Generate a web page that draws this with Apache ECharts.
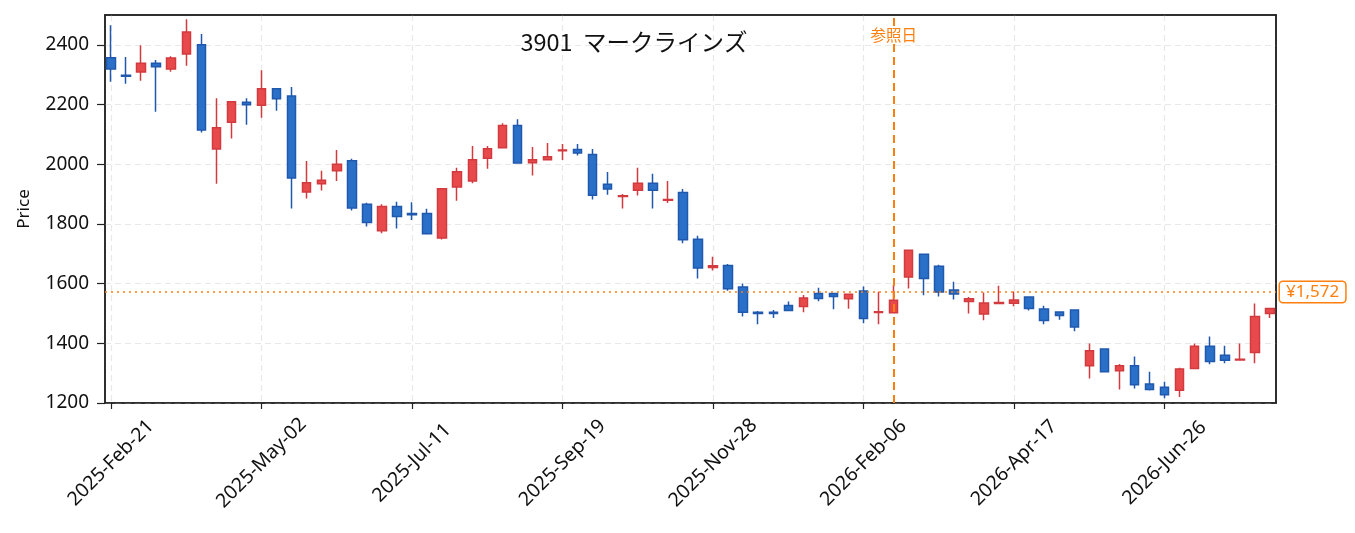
<!DOCTYPE html>
<html>
<head>
    <meta charset="utf-8" />
    <title>3901 マークラインズ</title>
    <script src="https://cdn.jsdelivr.net/npm/echarts@6/dist/echarts.min.js"></script>
    <style>
        html, body { margin: 0; padding: 0; background: #fff; }
        #chart { width: 1355px; height: 533px; }
    </style>
</head>
<body>
    <div id="chart"></div>
    <script type="text/javascript">
        // weekly dates (Fridays)
        var weeks = [
            "2025-Feb-21", "2025-Feb-28", "2025-Mar-07", "2025-Mar-14", "2025-Mar-21", "2025-Mar-28",
            "2025-Apr-04", "2025-Apr-11", "2025-Apr-18", "2025-Apr-25", "2025-May-02", "2025-May-09",
            "2025-May-16", "2025-May-23", "2025-May-30", "2025-Jun-06", "2025-Jun-13", "2025-Jun-20",
            "2025-Jun-27", "2025-Jul-04", "2025-Jul-11", "2025-Jul-18", "2025-Jul-25", "2025-Aug-01",
            "2025-Aug-08", "2025-Aug-15", "2025-Aug-22", "2025-Aug-29", "2025-Sep-05", "2025-Sep-12",
            "2025-Sep-19", "2025-Sep-26", "2025-Oct-03", "2025-Oct-10", "2025-Oct-17", "2025-Oct-24",
            "2025-Oct-31", "2025-Nov-07", "2025-Nov-14", "2025-Nov-21", "2025-Nov-28", "2025-Dec-05",
            "2025-Dec-12", "2025-Dec-19", "2025-Dec-26", "2026-Jan-02", "2026-Jan-09", "2026-Jan-16",
            "2026-Jan-23", "2026-Jan-30", "2026-Feb-06", "2026-Feb-13", "2026-Feb-20", "2026-Feb-27",
            "2026-Mar-06", "2026-Mar-13", "2026-Mar-20", "2026-Mar-27", "2026-Apr-03", "2026-Apr-10",
            "2026-Apr-17", "2026-Apr-24", "2026-May-01", "2026-May-08", "2026-May-15", "2026-May-22",
            "2026-May-29", "2026-Jun-05", "2026-Jun-12", "2026-Jun-19", "2026-Jun-26", "2026-Jul-03",
            "2026-Jul-10", "2026-Jul-17", "2026-Jul-24", "2026-Jul-31", "2026-Aug-07", "2026-Aug-14"
        ];

        var opens = [
            2357, 2298, 2309, 2338, 2319, 2369, 2400, 2051, 2141, 2208,
            2198, 2253, 2229, 1907, 1935, 1978, 2012, 1866, 1777, 1858,
            1835, 1835, 1753, 1924, 1944, 2020, 2055, 2130, 2005, 2015,
            2045, 2049, 2033, 1933, 1892, 1913, 1936, 1879, 1905, 1749,
            1654, 1661, 1589, 1504, 1504, 1527, 1523, 1567, 1567, 1549,
            1575, 1503, 1502, 1622, 1698, 1658, 1579, 1540, 1498, 1533,
            1534, 1555, 1515, 1505, 1512, 1325, 1381, 1308, 1325, 1264,
            1253, 1243, 1316, 1390, 1360, 1344, 1369, 1500
        ];
        var closes = [
            2319, 2295, 2338, 2327, 2356, 2443, 2115, 2122, 2209, 2199,
            2253, 2219, 1954, 1938, 1946, 2000, 1853, 1805, 1858, 1825,
            1831, 1767, 1918, 1975, 2015, 2052, 2130, 2004, 2015, 2025,
            2048, 2038, 1896, 1917, 1894, 1936, 1913, 1882, 1747, 1652,
            1660, 1583, 1504, 1500, 1500, 1510, 1552, 1550, 1557, 1564,
            1483, 1506, 1544, 1712, 1617, 1572, 1565, 1549, 1535, 1537,
            1545, 1517, 1476, 1493, 1455, 1375, 1305, 1325, 1261, 1245,
            1228, 1314, 1390, 1339, 1343, 1347, 1490, 1517
        ];
        var lows = [
            2276, 2270, 2280, 2176, 2310, 2330, 2106, 1935, 2086, 2132,
            2156, 2179, 1852, 1885, 1912, 1944, 1845, 1791, 1769, 1785,
            1813, 1765, 1748, 1878, 1936, 1985, 2054, 2003, 1962, 2013,
            2014, 2029, 1882, 1898, 1852, 1895, 1852, 1870, 1735, 1617,
            1644, 1576, 1490, 1464, 1485, 1508, 1504, 1541, 1514, 1516,
            1467, 1464, 1501, 1584, 1561, 1557, 1547, 1500, 1477, 1532,
            1524, 1510, 1464, 1479, 1440, 1282, 1303, 1245, 1249, 1242,
            1216, 1220, 1314, 1330, 1333, 1344, 1333, 1485
        ];
        var highs = [
            2466, 2359, 2399, 2349, 2362, 2486, 2436, 2221, 2212, 2221,
            2315, 2255, 2259, 2011, 1978, 2048, 2018, 1871, 1866, 1874,
            1873, 1851, 1920, 1988, 2061, 2061, 2137, 2151, 2058, 2071,
            2068, 2068, 2051, 1974, 1900, 1988, 1968, 1944, 1917, 1760,
            1690, 1666, 1600, 1508, 1512, 1540, 1562, 1586, 1568, 1565,
            1590, 1573, 1596, 1713, 1699, 1663, 1606, 1555, 1570, 1593,
            1574, 1556, 1526, 1506, 1513, 1399, 1382, 1331, 1356, 1305,
            1271, 1318, 1399, 1423, 1392, 1399, 1533, 1518
        ];

        var xTickIdx = [0, 10, 20, 30, 40, 50, 60, 70];
        var yTicks = [1200, 1400, 1600, 1800, 2000, 2200, 2400];
        var refIdx = 52;
        var refLabel = "参照日";
        var refPrice = 1572;
        var refPriceText = "¥1,572";
        var titleText = "3901  マークラインズ";

        var kdata = [];
        for (var i = 0; i < weeks.length; i++) {
            kdata.push([i, opens[i], closes[i], lows[i], highs[i]]);
        }

        var JP = "Noto Sans CJK JP";
        var LATIN = "Noto Sans";
        var ORANGE = "#ff7f0e";
        var FRAME = '#222';

        var chart = echarts.init(document.getElementById('chart'));
        chart.setOption({
            animation: false,
            backgroundColor: '#ffffff',
            title: {
                text: titleText,
                left: 629,
                top: 25,
                textAlign: 'center',
                textStyle: { fontFamily: JP, fontSize: 23.5, fontWeight: 'normal', color: '#111' }
            },
            grid: {
                left: 105, right: 79, top: 15, bottom: 130,
                show: true, borderColor: FRAME, borderWidth: 1.5
            },
            xAxis: [{
                type: 'value',
                min: -0.4, max: weeks.length - 0.6,
                axisLine: { onZero: false, lineStyle: { color: FRAME, width: 1.5 } },
                axisTick: { length: 6, customValues: xTickIdx, lineStyle: { color: FRAME, width: 1.2 } },
                axisLabel: {
                    customValues: xTickIdx,
                    formatter: function (v) { return weeks[v]; },
                    rotate: 45, align: 'center', verticalAlign: 'middle',
                    color: '#111', fontSize: 19.5, fontFamily: LATIN, margin: 60
                },
                splitLine: { show: true, lineStyle: { color: '#e8e8e8', type: [6, 4], width: 1.2 } }
            }, {
                type: 'value', position: 'top',
                min: -0.4, max: weeks.length - 0.6,
                axisLine: { onZero: false, lineStyle: { color: FRAME, width: 1.5 } },
                axisTick: { show: false }, axisLabel: { show: false }, splitLine: { show: false }
            }],
            yAxis: [{
                type: 'value',
                min: 1200, max: 2500,
                name: 'Price',
                nameLocation: 'middle',
                nameGap: 72,
                nameTextStyle: { fontFamily: LATIN, fontSize: 17, color: '#111' },
                axisLine: { show: true, onZero: false, lineStyle: { color: FRAME, width: 1.5 } },
                axisTick: { show: true, length: 8, customValues: yTicks, lineStyle: { color: FRAME, width: 1.2 } },
                axisLabel: { customValues: yTicks, formatter: function (v) { return String(v); },
                    color: '#111', fontSize: 19, fontFamily: LATIN, margin: 16 },
                splitLine: { show: true, lineStyle: { color: '#e8e8e8', type: [6, 4], width: 1.2 } }
            }, {
                type: 'value', position: 'right',
                min: 1200, max: 2500,
                axisLine: { show: true, onZero: false, lineStyle: { color: FRAME, width: 1.5 } },
                axisTick: { show: false }, axisLabel: { show: false }, splitLine: { show: false }
            }],
            series: [{
                type: 'candlestick',
                data: kdata,
                encode: { x: 0, y: [1, 2, 3, 4] },
                barWidth: 9,
                itemStyle: {
                    color: '#e84a4c',
                    borderColor: '#d13a3e',
                    color0: '#2a70c8',
                    borderColor0: '#1f58ad',
                    borderWidth: 1.5
                },
                markLine: {
                    silent: true,
                    symbol: ['none', 'none'],
                    data: [
                        {
                            yAxis: refPrice,
                            lineStyle: { color: ORANGE, type: [2, 4], width: 1.5 },
                            label: {
                                show: true, position: 'end', formatter: refPriceText,
                                color: ORANGE, fontSize: 17, fontFamily: LATIN,
                                backgroundColor: '#fff', borderColor: ORANGE, borderWidth: 1.5,
                                borderRadius: 3, padding: [2, 6, 1, 6], distance: 4
                            }
                        },
                        {
                            xAxis: refIdx,
                            lineStyle: { color: ORANGE, type: [8, 5], width: 2 },
                            label: { show: false }
                        }
                    ]
                },
                markPoint: {
                    silent: true,
                    symbolSize: 0,
                    data: [{
                        coord: [refIdx, 2432],
                        label: {
                            show: true, position: 'inside', formatter: refLabel,
                            color: ORANGE, fontSize: 15.5, fontFamily: JP,
                            backgroundColor: '#fff', padding: [0, 1]
                        }
                    }]
                }
            }]
        });
    </script>
</body>
</html>
